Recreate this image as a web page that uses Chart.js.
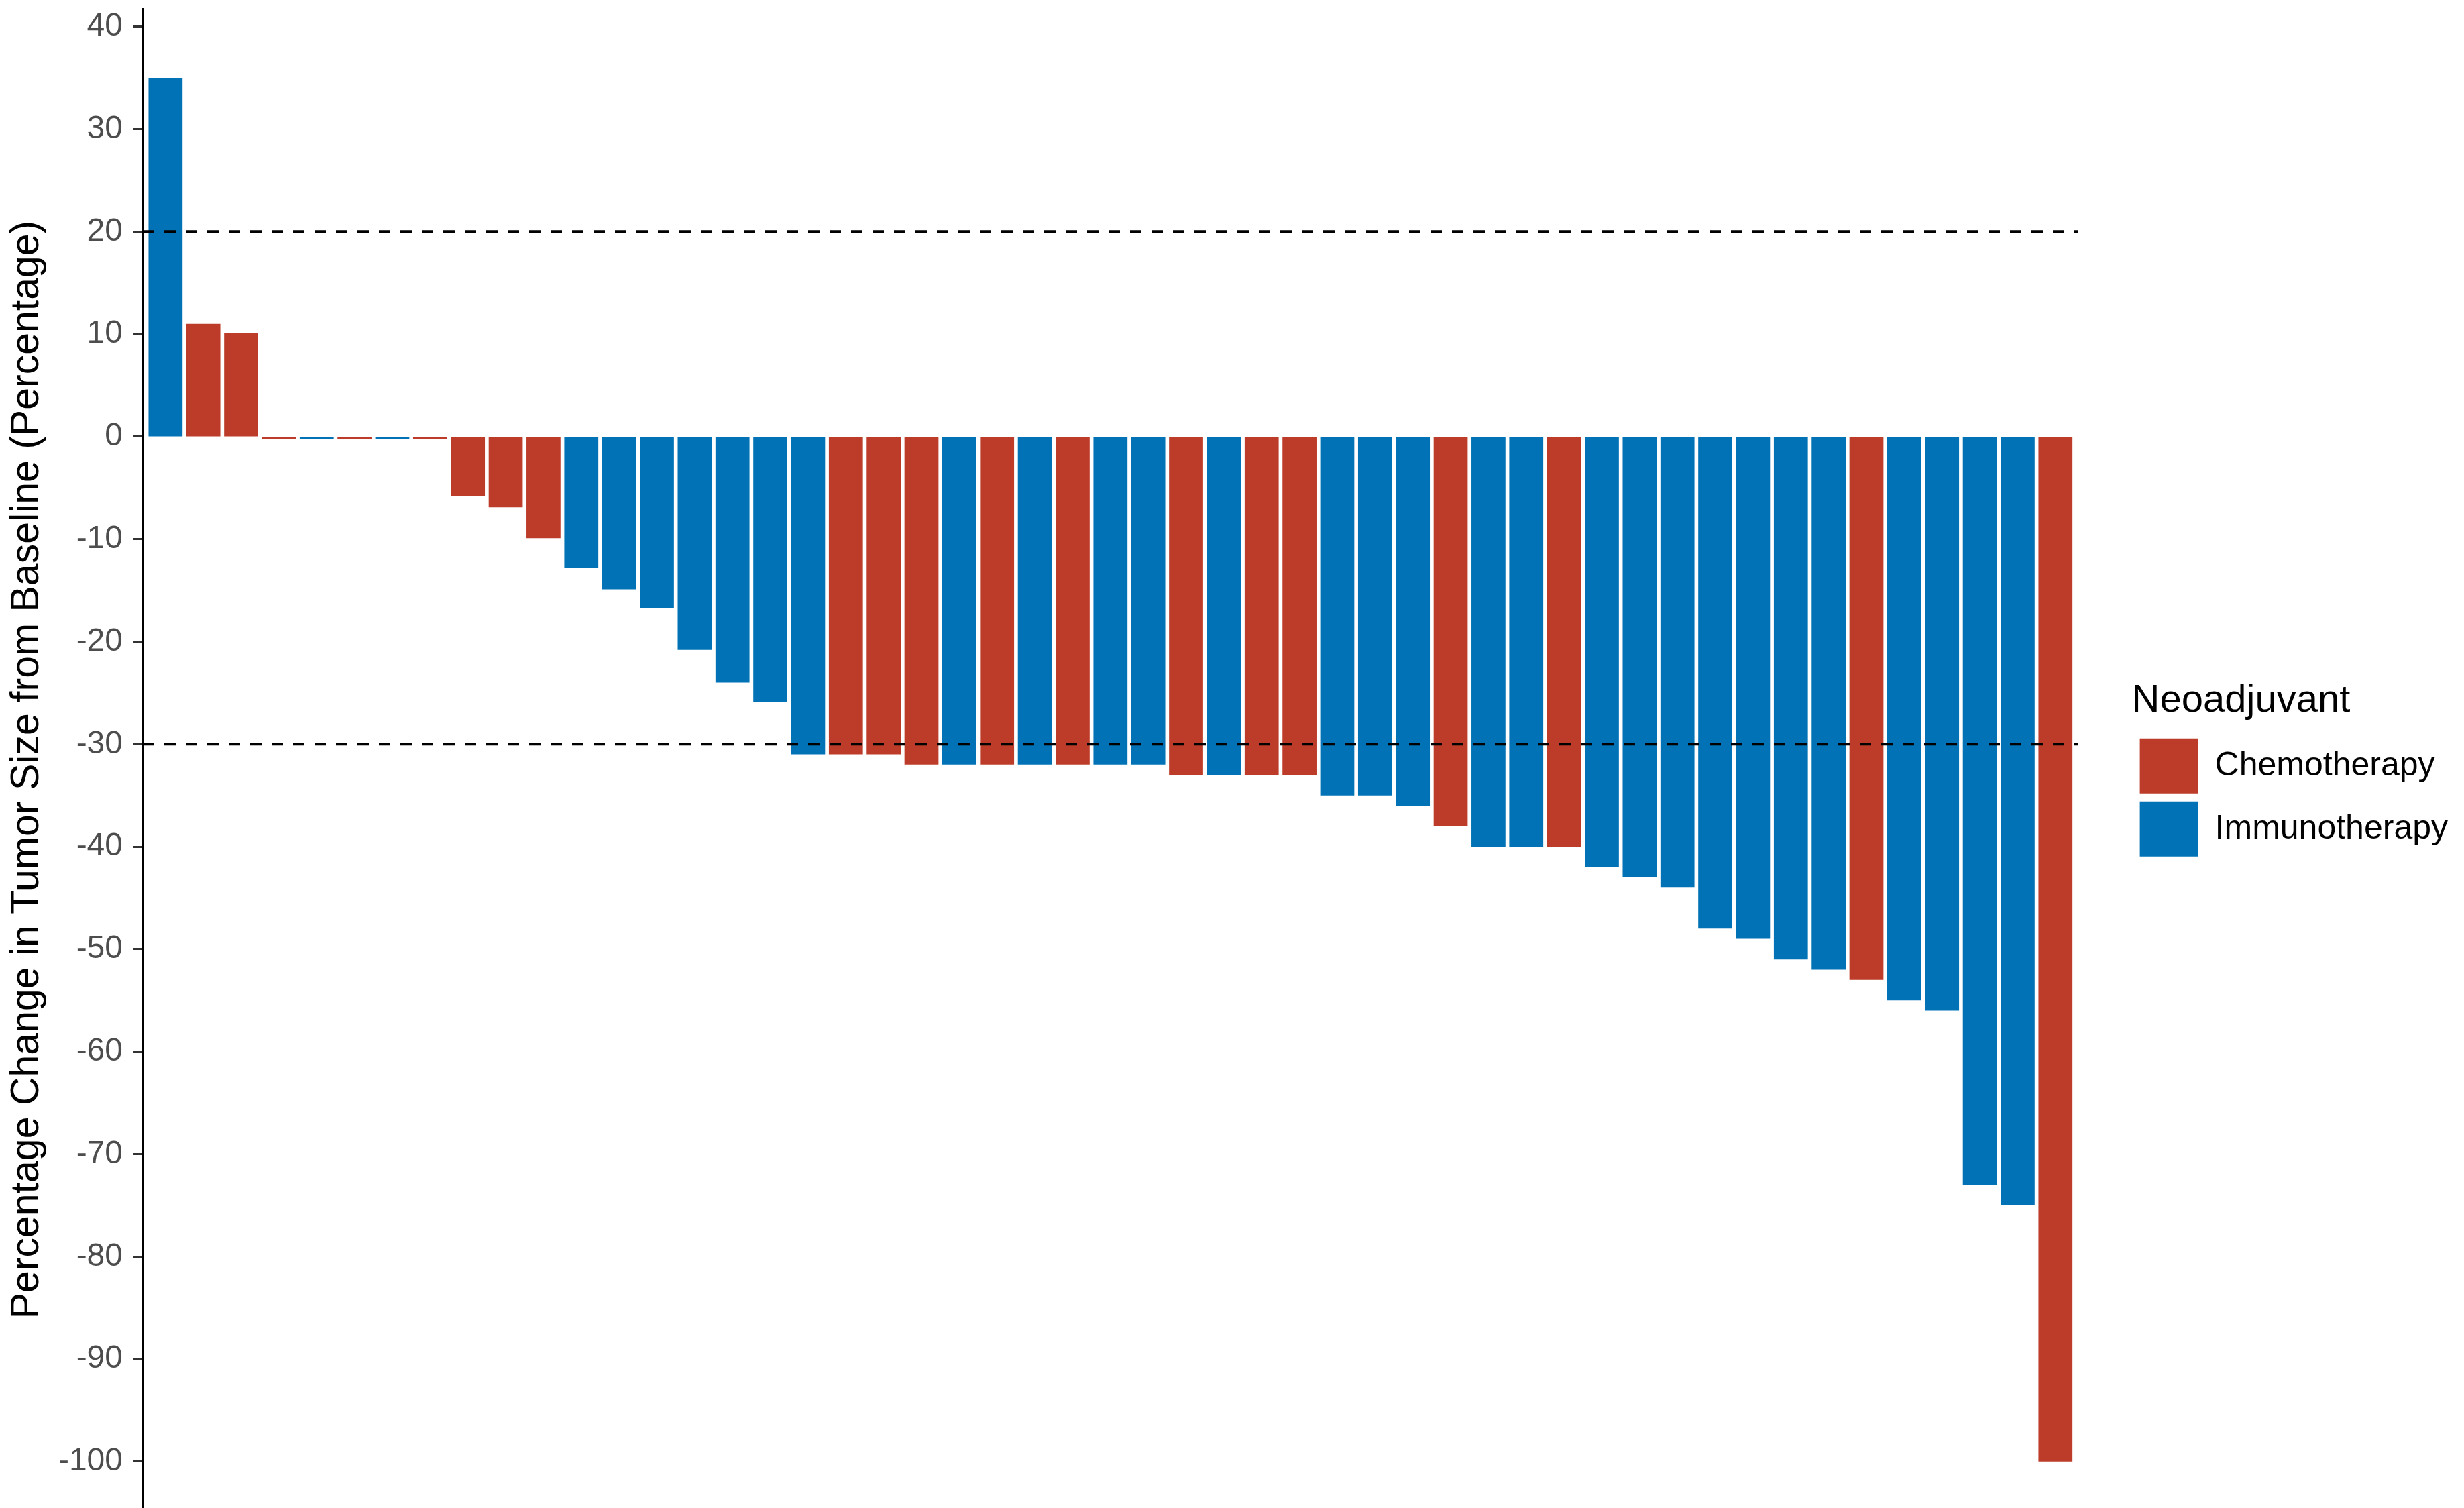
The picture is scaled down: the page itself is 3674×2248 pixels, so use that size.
<!DOCTYPE html>
<html>
<head>
<meta charset="utf-8">
<script src="https://cdn.jsdelivr.net/npm/chart.js@4.4.1/dist/chart.umd.min.js"></script>
<style>
  html, body { margin: 0; padding: 0; background: #ffffff; }
  /* the original figure is cut off a little below the -100 tick, so the panel runs past the bottom */
  #frame { width: 3674px; height: 2248px; overflow: hidden; }
  #waterfall { display: block; }
</style>
</head>
<body>
<div id="frame">
  <canvas id="waterfall" width="3674" height="2294" style="width:3674px;height:2294px"></canvas>
</div>
<script>
//--------------------- Data, one bar per patient, sorted as in the figure

//Percentage change from baseline for every patient
var changes = [35, 11, 10.1, -0.2, -0.2, -0.2, -0.2, -0.2, -5.8, -6.9,
               -9.9, -12.8, -14.9, -16.7, -20.8, -24, -25.9, -31, -31, -31,
               -32, -32, -32, -32, -32, -32, -32, -33, -33, -33,
               -33, -35, -35, -36, -38, -40, -40, -40, -42, -43,
               -44, -48, -49, -51, -52, -53, -55, -56, -73, -75,
               -100]

//Neoadjuvant treatment of every patient (C = chemotherapy, I = immunotherapy)
var groups = ["I", "C", "C", "C", "I", "C", "I", "C", "C", "C",
              "C", "I", "I", "I", "I", "I", "I", "I", "C", "C",
              "C", "I", "C", "I", "C", "I", "I", "C", "I", "C",
              "C", "I", "I", "I", "C", "I", "I", "C", "I", "I",
              "I", "I", "I", "I", "I", "C", "I", "I", "I", "I",
              "C"]

var groupCodes = ["C", "I"]
var groupNames = ["Chemotherapy", "Immunotherapy"]
var groupColors = ["#BC3C29", "#0072B5"]

//Y axis ticks and the dashed response thresholds
var tickValues = [40, 30, 20, 10, 0, -10, -20, -30, -40, -50, -60, -70, -80, -90, -100]
var refLines = [20, -30]

var yTitle = "Percentage Change in Tumor Size from Baseline (Percentage)"
var legendTitle = "Neoadjuvant"

var fontFamily = "'Liberation Sans', Arial, sans-serif"

// ------------------- Functions

//Builds the points of one treatment group, x is the position of the bar in the waterfall
function groupPoints(code) {
    var points = []
    for (var i = 0; i < changes.length; i++)
    {
        if (groups[i] === code)
        {
            points.push({x: i + 1, y: changes[i]})
        }
    }
    return points
}

function buildDatasets() {
    var sets = []
    for (var g = 0; g < groupCodes.length; g++)
    {
        sets.push({
            label: groupNames[g],
            data: groupPoints(groupCodes[g]),
            backgroundColor: groupColors[g],
            borderWidth: 0,
            grouped: false,
            barPercentage: 0.9,
            categoryPercentage: 1.0
        })
    }
    return sets
}

//Draws the dashed horizontal lines at +20 and -30 on top of the bars
var thresholdLines = {
    id: "thresholdLines",
    afterDatasetsDraw: function (chart) {
        var ctx = chart.ctx
        var area = chart.chartArea
        var yScale = chart.scales.y
        ctx.save()
        ctx.strokeStyle = "#000000"
        ctx.lineWidth = 4
        ctx.setLineDash([17, 15])
        for (var i = 0; i < refLines.length; i++)
        {
            var py = yScale.getPixelForValue(refLines[i])
            ctx.beginPath()
            ctx.moveTo(area.left, py)
            ctx.lineTo(area.right, py)
            ctx.stroke()
        }
        ctx.restore()
    }
}

function createGraph() {
    var ctx = document.getElementById("waterfall")
    var barCount = changes.length

    return new Chart(ctx, {
        type: "bar",
        data: {
            datasets: buildDatasets()
        },
        plugins: [thresholdLines],
        options: {
            responsive: false,
            devicePixelRatio: 1,
            animation: false,
            events: [],
            layout: {
                padding: {top: 13, right: 14, bottom: 12, left: 0}
            },
            scales: {
                x: {
                    type: "linear",
                    display: false,
                    offset: false,
                    min: 0.4,
                    max: barCount + 0.6
                },
                y: {
                    type: "linear",
                    position: "left",
                    min: -106.75,
                    max: 41.75,
                    afterBuildTicks: function (scale) {
                        scale.ticks = tickValues.map(function (v) { return {value: v} })
                    },
                    //fixed axis width, and no extra room above/below for the end labels
                    afterFit: function (scale) {
                        scale.width = 213
                        scale.paddingTop = 0
                        scale.paddingBottom = 0
                    },
                    grid: {
                        drawOnChartArea: false,
                        drawTicks: true,
                        tickLength: 15,
                        tickWidth: 3,
                        tickColor: "#333333"
                    },
                    border: {
                        display: true,
                        color: "#000000",
                        width: 3
                    },
                    ticks: {
                        padding: 15,
                        color: "#4D4D4D",
                        font: {family: fontFamily, size: 48}
                    },
                    title: {
                        display: true,
                        text: yTitle,
                        color: "#000000",
                        padding: {top: 5, bottom: 0},
                        font: {family: fontFamily, size: 59}
                    }
                },
                //Empty axis only used to leave the gap between the panel and the legend
                gap: {
                    type: "linear",
                    position: "right",
                    display: true,
                    grid: {display: false},
                    border: {display: false},
                    ticks: {display: false},
                    afterFit: function (scale) {
                        scale.width = 80
                        scale.paddingTop = 0
                        scale.paddingBottom = 0
                    }
                }
            },
            plugins: {
                tooltip: {enabled: false},
                legend: {
                    display: true,
                    position: "right",
                    align: "center",
                    labels: {
                        boxWidth: 87,
                        boxHeight: 82,
                        padding: 12,
                        color: "#000000",
                        font: {family: fontFamily, size: 50}
                    },
                    title: {
                        display: true,
                        text: legendTitle,
                        color: "#000000",
                        position: "start",
                        padding: {top: 10, bottom: 3},
                        font: {family: fontFamily, size: 58}
                    }
                }
            }
        }
    })
}

var waterfallChart = createGraph()
</script>
</body>
</html>
